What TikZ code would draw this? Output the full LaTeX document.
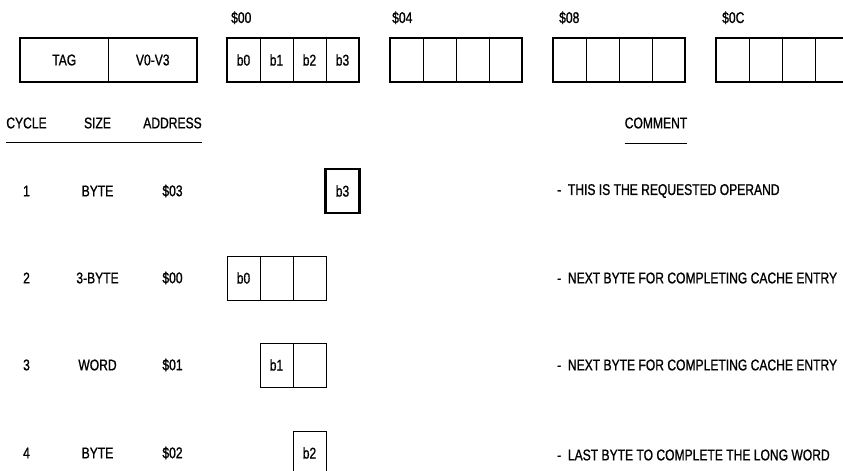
\documentclass[tikz,border=0pt]{standalone}
\usepackage{fontspec}
\setmainfont{Liberation Sans}[FakeStretch=0.78, FakeBold=1]
\usepackage{tikz}
\usetikzlibrary{positioning}

\begin{document}
\begin{tikzpicture}[
  x=1pt, y=-1pt,
  font=\fontsize{15.5}{17}\selectfont,
  node distance=0pt,
  cell/.style={rectangle, draw, line width=1pt, outer sep=0pt, inner sep=0pt, minimum width=33pt, minimum height=44pt},
  wide_cell/.style={cell, minimum width=88.5pt},
  req_cell/.style={cell, line width=2.8pt, minimum width=34pt},
  word_box/.style={draw, line width=2pt},
  word_label/.style={anchor=base west, inner sep=0pt},
  head/.style={inner sep=0pt},
  note/.style={anchor=west, inner sep=0pt},
  rule/.style={line width=1pt}
]
\useasboundingbox (0,0) rectangle (843,471);

% Cache entry
\node[wide_cell] (tag) at (64.25,60) {TAG};
\node[wide_cell, right=of tag] (valid) {V0-V3};
\draw[word_box] (tag.north west) rectangle (valid.south east);

% Long words in memory
\node[cell] (a00) at (243.5,60) {b0};
\node[cell, right=of a00] (a01) {b1};
\node[cell, right=of a01] (a02) {b2};
\node[cell, right=of a02] (a03) {b3};
\draw[word_box] (a00.north west) rectangle (a03.south east);
\node[word_label] (l00) at ([xshift=4pt, yshift=15pt]a00.north west) {\$00};

\node[cell] (a04) at (406.5,60) {};
\node[cell, right=of a04] (a05) {};
\node[cell, right=of a05] (a06) {};
\node[cell, right=of a06] (a07) {};
\draw[word_box] (a04.north west) rectangle (a07.south east);
\node[word_label] (l04) at ([xshift=2pt, yshift=15pt]a04.north west) {\$04};

\node[cell] (a08) at (569.5,60) {};
\node[cell, right=of a08] (a09) {};
\node[cell, right=of a09] (a0a) {};
\node[cell, right=of a0a] (a0b) {};
\draw[word_box] (a08.north west) rectangle (a0b.south east);
\node[word_label] (l08) at ([xshift=6pt, yshift=15pt]a08.north west) {\$08};

\node[cell] (a0c) at (732.5,60) {};
\node[cell, right=of a0c] (a0d) {};
\node[cell, right=of a0d] (a0e) {};
\node[cell, right=of a0e] (a0f) {};
\draw[word_box] (a0c.north west) rectangle (a0f.south east);
\node[word_label] (l0c) at ([xshift=6pt, yshift=15pt]a0c.north west) {\$0C};

% Headings
\node[head] (cycle) at (26.5,123) {CYCLE};
\node[head] (size) at (97.5,123) {SIZE};
\node[head] (address) at (172.5,123) {ADDRESS};
\node[head] (comment) at (656,123) {COMMENT};
\draw[rule] ([yshift=-14pt]cycle.south west) -- ([yshift=-14pt]address.south east);
\draw[rule] ([yshift=-15pt]comment.south west) -- ([yshift=-15pt]comment.south east);

% Rows
\coordinate (row1) at (0,191);
\coordinate (row2) at (0,278);
\coordinate (row3) at (0,365);
\coordinate (row4) at (0,453);

\node (c1) at (cycle |- row1) {1};
\node (s1) at (size |- row1) {BYTE};
\node (d1) at (address |- row1) {\$03};
\node[req_cell] (r1b3) at (a03 |- row1) {b3};
\node[note] (n1) at (557,191) {-\ \ THIS IS THE REQUESTED OPERAND};

\node (c2) at (cycle |- row2) {2};
\node (s2) at (size |- row2) {3-BYTE};
\node (d2) at (address |- row2) {\$00};
\node[cell] (r2b0) at (a00 |- row2) {b0};
\node[cell, right=of r2b0] (r2b1) {};
\node[cell, right=of r2b1] (r2b2) {};
\node[note] (n2) at (557,278) {-\ \ NEXT BYTE FOR COMPLETING CACHE ENTRY};

\node (c3) at (cycle |- row3) {3};
\node (s3) at (size |- row3) {WORD};
\node (d3) at (address |- row3) {\$01};
\node[cell] (r3b1) at (a01 |- row3) {b1};
\node[cell, right=of r3b1] (r3b2) {};
\node[note] (n3) at (557,365) {-\ \ NEXT BYTE FOR COMPLETING CACHE ENTRY};

\node (c4) at (cycle |- row4) {4};
\node (s4) at (size |- row4) {BYTE};
\node (d4) at (address |- row4) {\$02};
\node[cell] (r4b2) at (a02 |- row4) {b2};
\node[note] (n4) at (557,455) {-\ \ LAST BYTE TO COMPLETE THE LONG WORD};

\end{tikzpicture}
\end{document}
